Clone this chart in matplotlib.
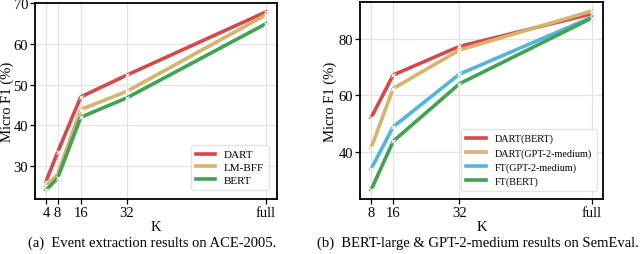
import matplotlib
matplotlib.use("Agg")
import matplotlib.pyplot as plt

plt.rcParams['font.family'] = ['Liberation Serif', 'DejaVu Serif']

# Left panel: event extraction on ACE-2005
k_labels_a = ["4", "8", "16", "32", "full"]
k_pos_a = [4, 8, 16, 32, 80]
dart_a = [26.2, 33.4, 47.0, 52.4, 67.9]
lmbff_a = [25.0, 28.0, 43.9, 48.4, 67.2]
bert_a = [24.1, 27.0, 42.0, 46.8, 65.0]

# Right panel: SemEval
k_labels_b = ["8", "16", "32", "full"]
k_pos_b = [8, 16, 40, 88]
dart_bert_b = [52.1, 67.2, 77.3, 88.8]
dart_gpt_b = [41.4, 62.4, 76.0, 89.8]
ft_gpt_b = [34.0, 48.9, 67.5, 87.6]
ft_bert_b = [26.6, 43.8, 64.1, 87.3]

RED = "#d44a4a"
GOLD = "#d4b46e"
CYAN = "#52b6d6"
GREEN = "#3fa353"

fig = plt.figure(figsize=(6.4, 2.55), dpi=100)
axA = fig.add_axes([35/640, 1-200/255, 242/640, 196/255])
axB = fig.add_axes([360/640, 1-200/255, 243/640, 197/255])

def style(ax, ylab_x):
    ax.grid(True, color="#e3e3e3", linewidth=0.9)
    ax.set_axisbelow(True)
    for s in ax.spines.values():
        s.set_color("black")
        s.set_linewidth(1.3)
    ax.tick_params(axis='both', labelsize=10.5, length=3.5, width=0.9, pad=1.5)
    ax.set_xlabel("K", fontsize=10.5, labelpad=1)
    ax.set_ylabel("Micro F1 (%)", fontsize=10.5)
    ax.yaxis.set_label_coords(ylab_x, 0.5)

def draw(ax, x, y, c, lab):
    ax.plot(x, y, color=c, lw=2.6, label=lab, solid_joinstyle='round')
    ax.plot(x, y, linestyle='none', marker='x', markersize=3,
            markeredgecolor='white', markeredgewidth=0.8)

draw(axA, k_pos_a, dart_a, RED, "DART")
draw(axA, k_pos_a, lmbff_a, GOLD, "LM-BFF")
draw(axA, k_pos_a, bert_a, GREEN, "BERT")
axA.set_xticks(k_pos_a)
axA.set_xticklabels(k_labels_a)
axA.set_yticks([30, 40, 50, 60, 70])
style(axA, -0.087)
axA.legend(loc='lower right', fontsize=8.0, frameon=True, edgecolor="#dddddd",
           borderpad=0.45, handlelength=1.7, labelspacing=0.25, fancybox=True,
           bbox_to_anchor=(0.99, 0.02))

draw(axB, k_pos_b, dart_bert_b, RED, "DART(BERT)")
draw(axB, k_pos_b, dart_gpt_b, GOLD, "DART(GPT-2-medium)")
draw(axB, k_pos_b, ft_gpt_b, CYAN, "FT(GPT-2-medium)")
draw(axB, k_pos_b, ft_bert_b, GREEN, "FT(BERT)")
axB.set_xticks(k_pos_b)
axB.set_xticklabels(k_labels_b)
axB.set_yticks([40, 60, 80])
style(axB, -0.095)
axB.legend(loc='lower right', fontsize=7.3, frameon=True, edgecolor="#dddddd",
           borderpad=0.5, handlelength=2.0, labelspacing=0.45, fancybox=True,
           bbox_to_anchor=(0.995, 0.015))

fig.text(152/640, 1-243/255, "(a)  Event extraction results on ACE-2005.",
         ha='center', va='center', fontsize=10.5)
fig.text(478/640, 1-243/255, "(b)  BERT-large & GPT-2-medium results on SemEval.",
         ha='center', va='center', fontsize=10.5)

fig.savefig("out.png", dpi=100)
